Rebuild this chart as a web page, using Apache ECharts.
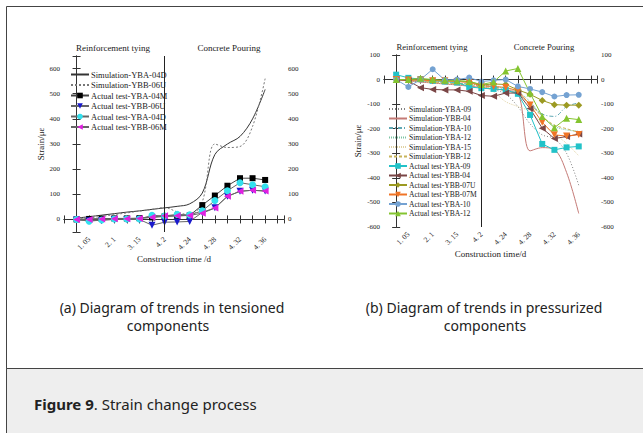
<!DOCTYPE html>
<html><head><meta charset="utf-8">
<script src="https://cdn.jsdelivr.net/npm/echarts@6/dist/echarts.min.js"></script>
<style>html,body{margin:0;padding:0;background:#fff;}#c{width:643px;height:433px;}</style>
</head><body><div id="c"></div>
<script>
// ---- data ----
const pointIndex = [0,1,2,3,4,5,6,7,8,9,10,11,12,13,14,15];
const tickIndex = [1,3,5,7,9,11,13,15];
const tickLabels = ['1. 05','2. 1','3. 15','4. 2','4. 24','4. 28','4. 32','4. 36'];
const stageLabels = ['Reinforcement tying','Concrete Pouring'];

// (a) tensioned components
const simYBA04D = [5,11,17,23,29,34,40,46,52,62,105,258,300,330,400,517];
const simYBB06U = [0,6,12,19,26,33,40,47,30,17,70,300,286,290,370,560];
const actYBA04M = [0,2,3,4,4,5,8,12,14,16,57,95,134,164,164,157];
const actYBB06U = [-2,-5,-4,0,0,0,-23,-11,-10,-8,28,46,92,112,116,113];
const actYBA04D = [0,-7,-2,2,2,2,16,14,20,18,34,75,114,146,138,130];
const actYBB06M = [0,0,2,3,3,4,9,15,15,16,25,45,92,112,116,113];

// (b) pressurized components
const simYBA09 = [0,-4,-8,-12,-16,-20,-24,-30,-40,-60,-110,-180,-225,-240,-300,-430];
const simYBB04 = [0,-5,-10,-14,-18,-22,-27,-32,-38,-44,-55,-290,-277,-285,-378,-545];
const simYBA10 = [0,-3,-6,-9,-12,-15,-18,-22,-30,-40,-60,-100,-140,-150,-110,-95];
const simYBA12 = [0,-3,-6,-9,-12,-15,-18,-22,-28,-35,-50,-90,-150,-190,-205,-210];
const simYBA15 = [0,-4,-8,-12,-16,-20,-24,-28,-50,-90,-110,-130,-180,-220,-260,-310];
const simYBB12 = [0,-3,-6,-10,-14,-18,-22,-26,-35,-45,-60,-100,-150,-185,-200,-215];
const actYBA09 = [20,7,2,-5,-8,-12,-30,-35,-38,-42,-58,-144,-262,-286,-276,-272];
const actYBB04 = [0,-5,-33,-40,-42,-42,-48,-65,-68,-55,-55,-118,-198,-240,-232,-222];
const actYBB07U = [0,0,2,-3,-5,-5,-8,-22,-18,-20,-42,-60,-85,-102,-104,-104];
const actYBB07M = [0,-2,-2,-5,-5,-8,-12,-25,-28,-32,-45,-103,-174,-225,-230,-224];
const actYBA10 = [0,-30,0,42,-2,0,8,-8,-3,0,-28,-38,-51,-69,-63,-62];
const actYBA12 = [0,0,5,0,-3,-5,-8,-20,-10,35,45,-55,-150,-196,-157,-163];

// ---- chart ----
const SERIF = '"Liberation Serif", "DejaVu Serif", serif';
const SANS = '"Noto Sans", "Open Sans", sans-serif';
const AX = '#333';
const pair = arr => arr.map((v,i) => [pointIndex[i], v]);
const xLabel = v => { const k = tickIndex.indexOf(v); return k >= 0 ? tickLabels[k] : ''; };

function xAxes(g, nameGap) {
  return [
    { type:'value', gridIndex:g, min:-1, max:16.5, interval:1, position:'bottom',
      axisLine:{show:true, lineStyle:{color:AX, width:1}},
      axisTick:{show:true, inside:true, length:4, lineStyle:{color:AX}},
      axisLabel:{show:true, rotate:45, margin:6, fontSize:7.5, fontFamily:SERIF, color:'#222', formatter:xLabel, hideOverlap:false},
      splitLine:{show:false},
      name: g===0 ? 'Construction time /d' : 'Construction time/d', nameLocation:'middle', nameGap:nameGap,
      nameTextStyle:{fontFamily:SERIF, fontSize:9, color:'#222'} },
    { type:'value', gridIndex:g, min:-1, max:16.5, interval:1, position:'top',
      axisLine:{show:true, lineStyle:{color:AX, width:1}},
      axisTick:{show:true, inside:true, length:4, lineStyle:{color:AX}},
      axisLabel:{show:false}, splitLine:{show:false} }
  ];
}
function yAxes(g, ext, nameGap) {
  const common = { type:'value', gridIndex:g, splitLine:{show:false},
      axisLine:{show:true, lineStyle:{color:AX, width:1}},
      axisTick:{show:true, inside:true, length:4, lineStyle:{color:AX}},
      axisLabel:{fontSize:7, fontFamily:SERIF, color:'#222', margin:4,
        formatter: v => (v % 100 === 0 ? String(v) : '')} };
  return [
    Object.assign({}, common, ext, {position:'left', name:'Strain/με', nameLocation:'middle', nameRotate:90, nameGap:nameGap,
      nameTextStyle:{fontFamily:SERIF, fontSize:9, color:'#222'}}),
    Object.assign({}, common, ext, {position:'right'})
  ];
}

const divider = { silent:true, symbol:['none','none'], label:{show:false},
  lineStyle:{color:'#222', type:'solid', width:1}, data:[{xAxis:7}] };

function simLine(name, data, xi, yi, color, type, width) {
  return { name, type:'line', xAxisIndex:xi, yAxisIndex:yi, data:pair(data), smooth:0.35,
    symbol:'none', showSymbol:false, lineStyle:{color, type, width:width||1}, itemStyle:{color}, z:2 };
}
function actLine(name, data, xi, yi, color, symbol, rot, lineColor, size) {
  return { name, type:'line', xAxisIndex:xi, yAxisIndex:yi, data:pair(data), smooth:false,
    symbol, symbolRotate:rot||0, symbolSize:size||6, showSymbol:true,
    lineStyle:{color:lineColor||color, width:1}, itemStyle:{color}, z:3 };
}

const seriesA = [
  simLine('Simulation-YBA-04D', simYBA04D, 0, 0, '#333', 'solid', 1),
  simLine('Simulation-YBB-06U', simYBB06U, 0, 0, '#777', [2,2], 1),
  actLine('Actual test-YBA-04M', actYBA04M, 0, 0, '#000', 'rect', 0, '#444', 6),
  actLine('Actual test-YBB-06U', actYBB06U, 0, 0, '#1a1acc', 'triangle', 180, '#666', 7),
  actLine('Actual test-YBA-04D', actYBA04D, 0, 0, '#33e0ee', 'circle', 0, '#666', 7),
  actLine('Actual test-YBB-06M', actYBB06M, 0, 0, '#e020e0', 'triangle', 90, '#666', 7)
];
seriesA[0].markLine = divider;

const seriesB = [
  simLine('Simulation-YBA-09', simYBA09, 2, 2, '#808080', [1,2], 1),
  simLine('Simulation-YBB-04', simYBB04, 2, 2, '#c47a76', 'solid', 1),
  simLine('Simulation-YBA-10', simYBA10, 2, 2, '#5fa8b4', [4,2,1,2], 1),
  simLine('Simulation-YBA-12', simYBA12, 2, 2, '#7cc4a4', [1,1], 1),
  simLine('Simulation-YBA-15', simYBA15, 2, 2, '#e0d2a4', [1,1], 1),
  simLine('Simulation-YBB-12', simYBB12, 2, 2, '#c8b45a', [3,2], 1),
  actLine('Actual test-YBA-09', actYBA09, 2, 2, '#22c2c8', 'rect', 0, null, 6),
  actLine('Actual test-YBB-04', actYBB04, 2, 2, '#7a4646', 'triangle', 90, null, 7),
  actLine('Actual test-YBB-07U', actYBB07U, 2, 2, '#9c9a22', 'diamond', 0, null, 7),
  actLine('Actual test-YBB-07M', actYBB07M, 2, 2, '#f07426', 'triangle', 180, null, 7),
  actLine('Actual test-YBA-10', actYBA10, 2, 2, '#74a2d2', 'circle', 0, null, 6),
  actLine('Actual test-YBA-12', actYBA12, 2, 2, '#84c430', 'triangle', 0, null, 7)
];
seriesB[0].markLine = divider;

const legendItems = list => list.map(s => s.symbol === 'none'
  ? {name:s.name, itemStyle:{opacity:0}} : {name:s.name});

const option = {
  animation:false,
  backgroundColor:'#fff',
  grid:[
    {left:64, top:56, width:220, height:176, containLabel:false},
    {left:384, top:55, width:213, height:172, containLabel:false}
  ],
  xAxis:[...xAxes(0, 22), ...xAxes(1, 18)],
  yAxis:[...yAxes(0, {min:-50, max:650, splitNumber:7}, 18), ...yAxes(1, {min:-600, max:100, interval:100}, 22)],
  legend:[
    { data:legendItems(seriesA), orient:'vertical', left:70, top:70, itemWidth:18, itemHeight:7, itemGap:1.5,
      selectedMode:false, padding:0, textStyle:{fontFamily:SERIF, fontSize:8.5, color:'#222', padding:[0,0,0,-3]} },
    { data:legendItems(seriesB), orient:'vertical', left:388, top:105, itemWidth:18, itemHeight:7, itemGap:1.5,
      selectedMode:false, padding:0, textStyle:{fontFamily:SERIF, fontSize:7.6, color:'#222', padding:[0,0,0,-3]} }
  ],
  graphic:[
    {type:'rect', shape:{x:6.5, y:6.5, width:700, height:500}, style:{fill:'none', stroke:'#444', lineWidth:1}, silent:true},
    {type:'rect', shape:{x:6.5, y:368.5, width:700, height:100}, style:{fill:'#eeeeee', stroke:'#444', lineWidth:1}, silent:true},
    {type:'text', x:113, y:48, style:{text:stageLabels[0], font:'9px '+SERIF, fill:'#222', align:'center', verticalAlign:'middle'}},
    {type:'text', x:229, y:48, style:{text:stageLabels[1], font:'9px '+SERIF, fill:'#222', align:'center', verticalAlign:'middle'}},
    {type:'text', x:432, y:47, style:{text:stageLabels[0], font:'8.6px '+SERIF, fill:'#222', align:'center', verticalAlign:'middle'}},
    {type:'text', x:544, y:47, style:{text:stageLabels[1], font:'8.6px '+SERIF, fill:'#222', align:'center', verticalAlign:'middle'}},
    {type:'text', x:172, y:307, style:{text:'(a) Diagram of trends in tensioned', font:'14px '+SANS, fill:'#222', align:'center', verticalAlign:'middle'}},
    {type:'text', x:168, y:325, style:{text:'components', font:'14px '+SANS, fill:'#222', align:'center', verticalAlign:'middle'}},
    {type:'text', x:484, y:307, style:{text:'(b) Diagram of trends in pressurized', font:'14px '+SANS, fill:'#222', align:'center', verticalAlign:'middle'}},
    {type:'text', x:485, y:325, style:{text:'components', font:'14px '+SANS, fill:'#222', align:'center', verticalAlign:'middle'}},
    {type:'text', x:34, y:404, style:{text:'{b|Figure 9}{n|. Strain change process}', align:'left', verticalAlign:'middle',
      rich:{b:{font:'bold 15px '+SANS, fill:'#222'}, n:{font:'15px '+SANS, fill:'#222'}}}}
  ],
  series:[...seriesA, ...seriesB]
};
const chart = echarts.init(document.getElementById('c'), null, {renderer:'svg'});
chart.setOption(option);
</script>
</body></html>
